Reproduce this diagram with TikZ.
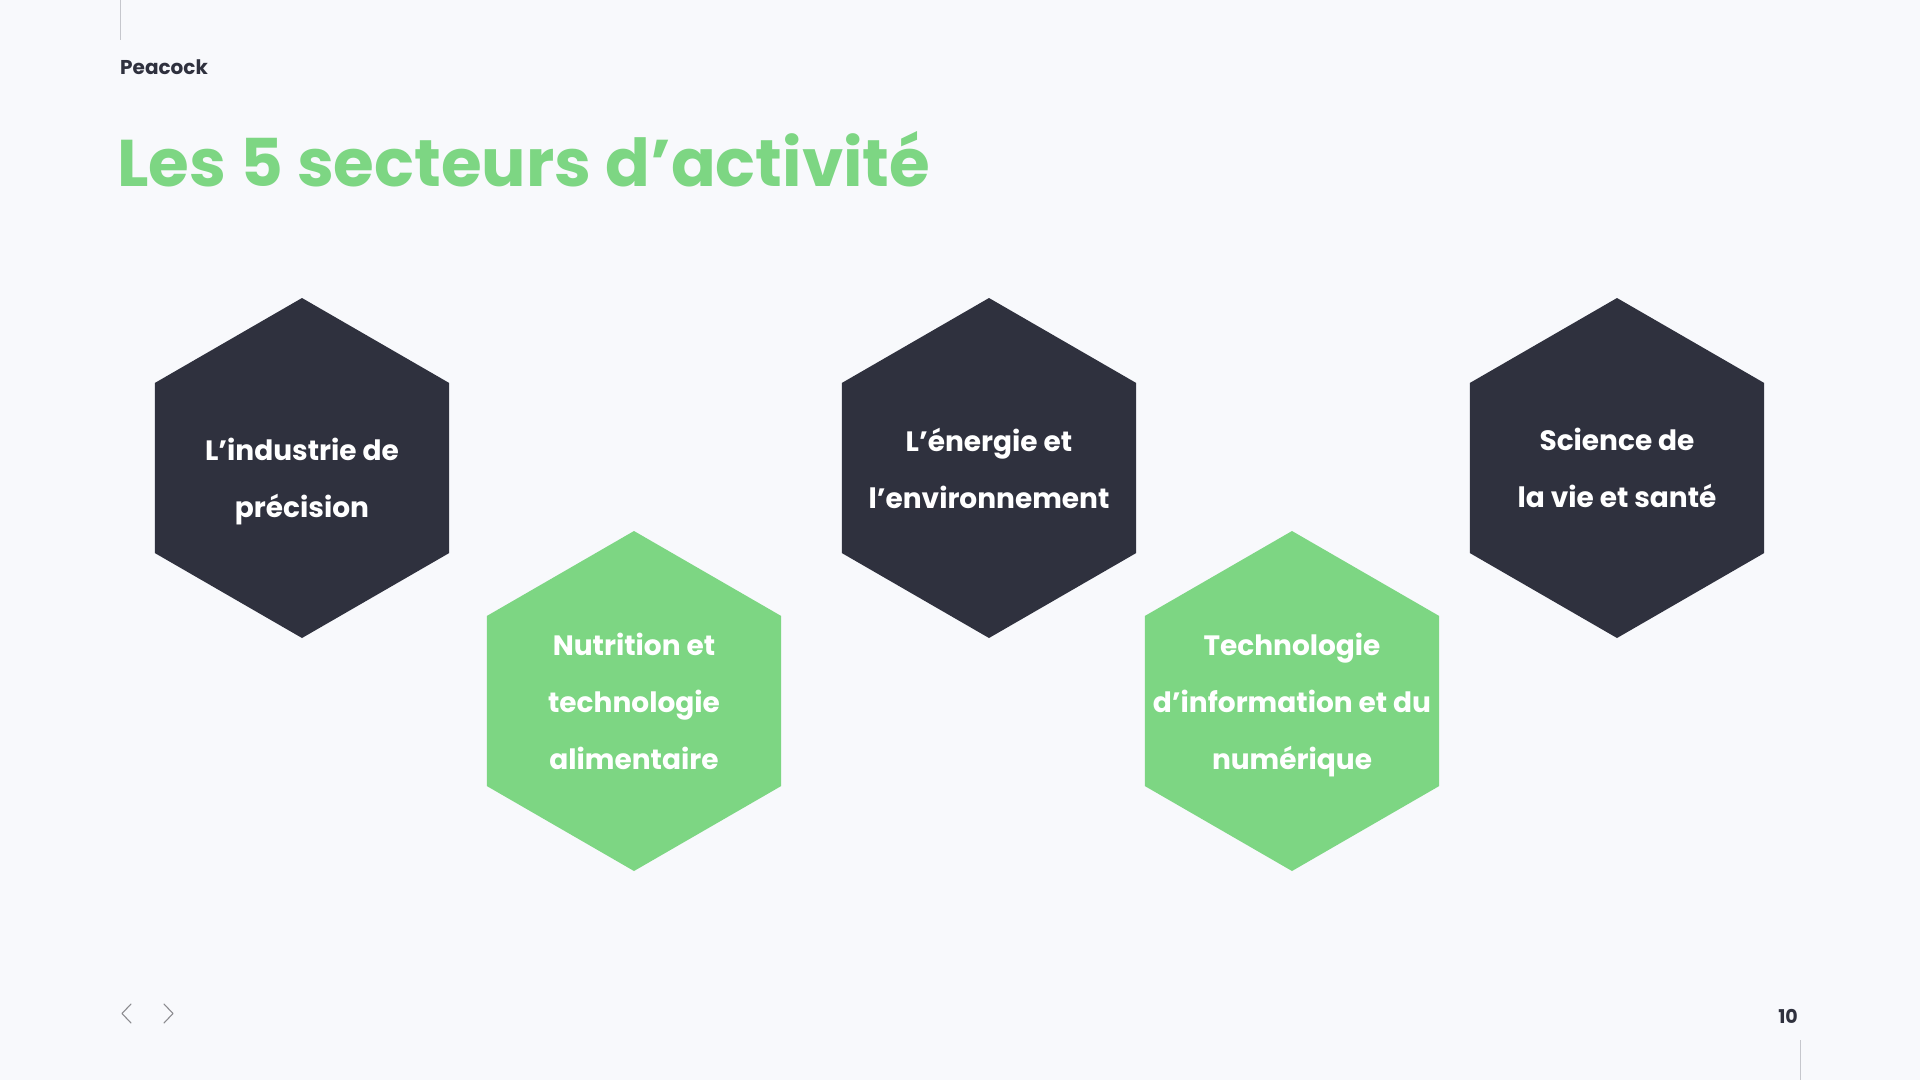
\documentclass[tikz,border=0pt]{standalone}
\usepackage{fontspec}
\setmainfont{Poppins}
\usepackage{tikz}
\usetikzlibrary{shapes.geometric}

\definecolor{pagebg}{HTML}{F8F9FC}
\definecolor{slate}{HTML}{2F313E}
\definecolor{leaf}{HTML}{7DD683}
\definecolor{rule}{HTML}{C6C7CD}

\begin{document}
\begin{tikzpicture}[x=1pt, y=-1pt,
    hexbase/.style={regular polygon, regular polygon sides=6, shape border rotate=30, minimum size=340pt, inner sep=0pt, draw=none},
    darkhex/.style={hexbase, fill=slate},
    greenhex/.style={hexbase, fill=leaf},
    hextext/.style={text=white, align=center, inner sep=0pt, font=\fontsize{28}{57}\selectfont\bfseries},
    chevron/.style={draw=rule!70!black, line width=1.1pt, line cap=round, line join=round}
]
    % page and margins
    \fill[pagebg] (0,0) rectangle (1920,1080);
    \useasboundingbox (0,0) rectangle (1920,1080);

    % header
    \coordinate (topa) at (120,0);
    \coordinate (topb) at (120,40);
    \draw[rule, line width=1pt] (topa) -- (topb);
    \node[anchor=base west, inner sep=0pt, text=slate, font=\fontsize{20}{24}\selectfont\bfseries] (brand) at (120,74) {Peacock};
    \node[anchor=base west, inner sep=0pt, text=leaf, font=\fontsize{66}{80}\selectfont\bfseries] (title) at (117,186) {Les 5 secteurs d’activité};

    % sectors
    \foreach \n/\x/\y/\s/\dy/\t in {
        h1/302/468/darkhex/13/{L’industrie de\\précision},
        h2/634/701/greenhex/0/{Nutrition et\\technologie\\alimentaire},
        h3/989/468/darkhex/0/{L’énergie et\\l’environnement},
        h4/1292/701/greenhex/4/{Technologie\\d’information et du\\numérique},
        h5/1617/468/darkhex/0/{Science de\\la vie et santé}} {
        \node[\s] (\n) at (\x,\y) {};
        \node[hextext, yshift=-\dy pt] (\n-t) at (\n) {\t};
    }

    % footer
    \draw[chevron] (131,1004) -- (122,1013.5) -- (131,1023);
    \draw[chevron] (164,1004) -- (173,1013.5) -- (164,1023);
    \node[anchor=base east, inner sep=0pt, text=slate, font=\fontsize{19}{22}\selectfont\bfseries] (pagenum) at (1798,1023) {10};
    \coordinate (bota) at (1800,1040);
    \coordinate (botb) at (1800,1080);
    \draw[rule, line width=1pt] (bota) -- (botb);
\end{tikzpicture}
\end{document}
